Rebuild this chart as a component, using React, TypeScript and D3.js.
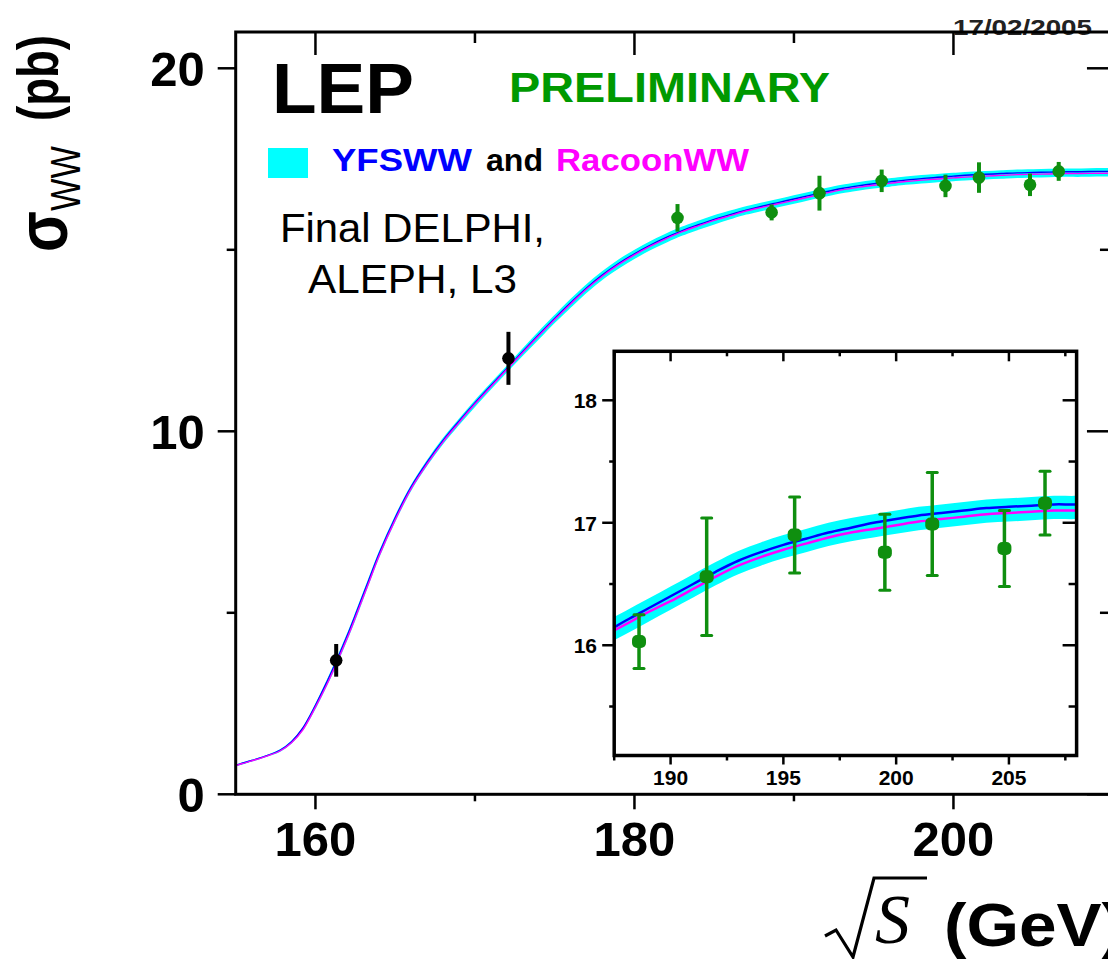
import React from "react";
import * as d3 from "d3";

// ---- data ----
const energy = [155, 156, 157, 157.8, 158.5, 159.2, 160, 160.7, 161.3, 162, 162.6, 163.3, 164, 165, 166, 167, 168, 169, 170, 171, 172, 173, 174, 175, 176, 177, 178, 179, 180, 181, 182, 183, 184, 185, 186, 187, 188, 189, 190, 191, 192, 193, 194, 195, 196, 197, 198, 199, 200, 201, 202, 203, 204, 205, 206, 207, 208, 209, 210];
const yfsww = [0.80, 0.93, 1.07, 1.22, 1.45, 1.82, 2.45, 3.08, 3.66, 4.38, 5.05, 5.85, 6.64, 7.62, 8.47, 9.15, 9.75, 10.28, 10.78, 11.26, 11.73, 12.20, 12.66, 13.11, 13.54, 13.95, 14.31, 14.62, 14.89, 15.13, 15.34, 15.53, 15.69, 15.84, 15.97, 16.09, 16.20, 16.30, 16.40, 16.50, 16.60, 16.69, 16.76, 16.82, 16.87, 16.92, 16.96, 17.00, 17.03, 17.06, 17.08, 17.10, 17.12, 17.13, 17.14, 17.15, 17.15, 17.16, 17.16];
const racoonww = [0.79, 0.92, 1.06, 1.20, 1.42, 1.77, 2.40, 3.01, 3.59, 4.31, 4.98, 5.78, 6.58, 7.56, 8.42, 9.10, 9.71, 10.24, 10.75, 11.23, 11.70, 12.17, 12.63, 13.08, 13.51, 13.92, 14.28, 14.59, 14.86, 15.10, 15.31, 15.50, 15.66, 15.81, 15.94, 16.07, 16.17, 16.27, 16.36, 16.46, 16.56, 16.65, 16.72, 16.78, 16.83, 16.88, 16.92, 16.95, 16.98, 17.01, 17.03, 17.05, 17.07, 17.08, 17.09, 17.10, 17.10, 17.11, 17.11];
const bandLow = [0.79, 0.92, 1.06, 1.20, 1.42, 1.78, 2.39, 3.01, 3.58, 4.30, 4.96, 5.78, 6.57, 7.55, 8.40, 9.08, 9.68, 10.20, 10.70, 11.18, 11.65, 12.11, 12.56, 13.01, 13.43, 13.84, 14.20, 14.50, 14.77, 15.01, 15.22, 15.41, 15.57, 15.72, 15.86, 15.99, 16.09, 16.19, 16.29, 16.39, 16.49, 16.58, 16.65, 16.71, 16.76, 16.81, 16.85, 16.88, 16.91, 16.94, 16.96, 16.98, 17.00, 17.01, 17.02, 17.03, 17.03, 17.04, 17.04];
const bandHigh = [0.80, 0.93, 1.07, 1.22, 1.45, 1.81, 2.46, 3.09, 3.68, 4.40, 5.07, 5.87, 6.66, 7.64, 8.49, 9.18, 9.79, 10.32, 10.83, 11.31, 11.78, 12.26, 12.73, 13.18, 13.62, 14.03, 14.39, 14.71, 14.98, 15.22, 15.43, 15.62, 15.78, 15.93, 16.06, 16.18, 16.28, 16.38, 16.48, 16.58, 16.68, 16.77, 16.84, 16.90, 16.95, 17.00, 17.04, 17.07, 17.10, 17.13, 17.15, 17.17, 17.19, 17.20, 17.21, 17.22, 17.22, 17.23, 17.23];

const lepE = [182.7, 188.6, 191.6, 195.5, 199.5, 201.6, 204.8, 206.6];
const lepSigma = [15.88, 16.03, 16.56, 16.90, 16.76, 16.99, 16.79, 17.16];
const lepErr = [0.38, 0.22, 0.48, 0.31, 0.31, 0.42, 0.31, 0.26];

const thrE = [161.3, 172.1];
const thrSigma = [3.69, 12.01];
const thrErr = [0.45, 0.73];

const mainXMajor = [160, 180, 200];
const mainXMinor = [170, 190];
const mainYMajor = [0, 10, 20];
const mainYMinor = [5, 15];
const insetXMajor = [190, 195, 200, 205];
const insetXMinor = [187.5, 192.5, 197.5, 202.5, 207.5];
const insetYMajor = [16, 17, 18];
const insetYMinor = [15.5, 16.5, 17.5];

const SANS = "'Liberation Sans', Arial, Helvetica, sans-serif";
const GREEN = "#0f8f0f";

export default function App() {
  // main scales
  const x = d3.scaleLinear().domain([155, 210]).range([235.7, 1112.95]);
  const y = d3.scaleLinear().domain([0, 21]).range([794.3, 32.0]);
  // inset scales
  const xi = d3.scaleLinear().domain([187.5, 208]).range([614.2, 1076.6]);
  const yi = d3.scaleLinear().domain([15.1, 18.4]).range([755.5, 351.3]);

  const idx = energy.map((_, i) => i);
  const curve = d3.curveCatmullRom.alpha(0.5);

  const mk = (sx: any, sy: any) => {
    const band = d3
      .area<number>()
      .x((i) => sx(energy[i]))
      .y0((i) => sy(bandLow[i]))
      .y1((i) => sy(bandHigh[i]))
      .curve(curve)(idx) as string;
    const l1 = d3
      .line<number>()
      .x((i) => sx(energy[i]))
      .y((i) => sy(yfsww[i]))
      .curve(curve)(idx) as string;
    const l2 = d3
      .line<number>()
      .x((i) => sx(energy[i]))
      .y((i) => sy(racoonww[i]))
      .curve(curve)(idx) as string;
    return { band, l1, l2 };
  };
  const m = mk(x, y);
  const ins = mk(xi, yi);

  const [MX0, MX1] = x.range();
  const [MY1, MY0] = y.range();
  const [IX0, IX1] = xi.range();
  const [IY1, IY0] = yi.range();

  return (
    <svg
      width={1108}
      height={959}
      style={{ position: "absolute", left: 0, top: 0, background: "#fff" }}
      fontFamily={SANS}
    >
      <defs>
        <clipPath id="mainClip">
          <rect x={MX0} y={MY0} width={MX1 - MX0} height={MY1 - MY0} />
        </clipPath>
        <clipPath id="insetClip">
          <rect x={IX0} y={IY0} width={IX1 - IX0} height={IY1 - IY0} />
        </clipPath>
      </defs>
      <rect x={0} y={0} width={1108} height={959} fill="#fff" />

      {/* date */}
      <text x={953} y={35} fontSize={22} fontWeight="bold" fill="#222" textLength={139} lengthAdjust="spacingAndGlyphs">
        17/02/2005
      </text>

      {/* main theory curves */}
      <g clipPath="url(#mainClip)">
        <path d={m.band} fill="#00ffff" stroke="#00ffff" strokeWidth={1.5} />
        <path d={m.l1} fill="none" stroke="#0000ff" strokeWidth={1.4} />
        <path d={m.l2} fill="none" stroke="#ff00ff" strokeWidth={1.4} />
      </g>

      {/* main data points */}
      {thrE.map((e, i) => (
        <g key={"t" + i}>
          <line x1={x(e)} x2={x(e)} y1={y(thrSigma[i] - thrErr[i])} y2={y(thrSigma[i] + thrErr[i])} stroke="#000" strokeWidth={4} />
          <circle cx={x(e)} cy={y(thrSigma[i])} r={6.3} fill="#000" />
        </g>
      ))}
      {lepE.map((e, i) => (
        <g key={"l" + i}>
          <line x1={x(e)} x2={x(e)} y1={y(lepSigma[i] - lepErr[i])} y2={y(lepSigma[i] + lepErr[i])} stroke={GREEN} strokeWidth={4} />
          <circle cx={x(e)} cy={y(lepSigma[i])} r={6.3} fill={GREEN} />
        </g>
      ))}

      {/* main frame and ticks */}
      <g stroke="#000" strokeWidth={2.5}>
        {mainXMajor.map((v) => (
          <g key={"mxM" + v}>
            <line x1={x(v)} x2={x(v)} y1={MY1} y2={MY1 + 15} />
            <line x1={x(v)} x2={x(v)} y1={MY0} y2={MY0 + 23} />
          </g>
        ))}
        {mainXMinor.map((v) => (
          <g key={"mxm" + v}>
            <line x1={x(v)} x2={x(v)} y1={MY1} y2={MY1 + 7} />
            <line x1={x(v)} x2={x(v)} y1={MY0} y2={MY0 + 11} />
          </g>
        ))}
        {mainYMajor.map((v) => (
          <g key={"myM" + v}>
            <line x1={MX0 - 18} x2={MX0} y1={y(v)} y2={y(v)} />
            <line x1={MX1 - 26} x2={MX1} y1={y(v)} y2={y(v)} />
          </g>
        ))}
        {mainYMinor.map((v) => (
          <g key={"mym" + v}>
            <line x1={MX0 - 9} x2={MX0} y1={y(v)} y2={y(v)} />
            <line x1={MX1 - 13} x2={MX1} y1={y(v)} y2={y(v)} />
          </g>
        ))}
      </g>
      <rect x={MX0} y={MY0} width={MX1 - MX0} height={MY1 - MY0} fill="none" stroke="#000" strokeWidth={3} />

      {/* main tick labels */}
      {mainXMajor.map((v) => (
        <text key={"mxl" + v} x={x(v)} y={856} fontSize={49} fontWeight="bold" textAnchor="middle">
          {v}
        </text>
      ))}
      {mainYMajor.map((v) => (
        <text key={"myl" + v} x={MX0 - 31} y={y(v) + 18} fontSize={49} fontWeight="bold" textAnchor="end">
          {v}
        </text>
      ))}

      {/* texts */}
      <text x={272} y={113} fontSize={71} fontWeight="bold" textLength={142} lengthAdjust="spacingAndGlyphs">
        LEP
      </text>
      <text x={509} y={102} fontSize={42} fontWeight="bold" fill="#009900" textLength={321} lengthAdjust="spacingAndGlyphs">
        PRELIMINARY
      </text>
      <rect x={268} y={148} width={40} height={30} fill="#00ffff" />
      <text x={332} y={171} fontSize={32} fontWeight="bold" fill="#0000ff" textLength={140} lengthAdjust="spacingAndGlyphs">
        YFSWW
      </text>
      <text x={486} y={171} fontSize={32} fontWeight="bold" fill="#000" textLength={57} lengthAdjust="spacingAndGlyphs">
        and
      </text>
      <text x={556} y={171} fontSize={32} fontWeight="bold" fill="#ff00ff" textLength={193} lengthAdjust="spacingAndGlyphs">
        RacoonWW
      </text>
      <text x={280} y={242} fontSize={41} textLength={265} lengthAdjust="spacingAndGlyphs">
        Final DELPHI,
      </text>
      <text x={308} y={293} fontSize={41} textLength={209} lengthAdjust="spacingAndGlyphs">
        ALEPH, L3
      </text>

      {/* y axis title */}
      <g transform="translate(67,252) scale(1.2,1) rotate(-90)">
        <text x={0} y={0} fontSize={60} fontWeight="bold">σ</text>
      </g>
      <g transform="translate(80,211) scale(1.25,1) rotate(-90)">
        <text x={0} y={0} fontSize={34} textLength={65} lengthAdjust="spacingAndGlyphs">WW</text>
      </g>
      <g transform="translate(58,121) scale(1.25,1) rotate(-90)">
        <text x={0} y={0} fontSize={46} fontWeight="bold" textLength={86} lengthAdjust="spacingAndGlyphs">(pb)</text>
      </g>

      {/* x axis title */}
      <path d="M825,936 L836,930 L853,957 L874,878 L927,878" fill="none" stroke="#000" strokeWidth={3.2} strokeLinejoin="miter" />
      <text x={875} y={943} fontSize={70} fontStyle="italic" fontFamily="'Liberation Serif', 'Times New Roman', serif">
        S
      </text>
      <text x={944} y={946} fontSize={62} fontWeight="bold" textLength={180} lengthAdjust="spacingAndGlyphs">
        (GeV)
      </text>

      {/* inset */}
      <rect x={IX0} y={IY0} width={IX1 - IX0} height={IY1 - IY0} fill="#fff" />
      <g clipPath="url(#insetClip)">
        <path d={ins.band} fill="#00ffff" />
        <path d={ins.l1} fill="none" stroke="#0000ff" strokeWidth={2.5} />
        <path d={ins.l2} fill="none" stroke="#ff00ff" strokeWidth={2.5} />
        {lepE.map((e, i) => (
          <g key={"il" + i}>
            <line x1={xi(e)} x2={xi(e)} y1={yi(lepSigma[i] - lepErr[i])} y2={yi(lepSigma[i] + lepErr[i])} stroke={GREEN} strokeWidth={3.5} />
            <line x1={xi(e) - 5} x2={xi(e) + 5} y1={yi(lepSigma[i] - lepErr[i])} y2={yi(lepSigma[i] - lepErr[i])} stroke={GREEN} strokeWidth={3} strokeLinecap="round" />
            <line x1={xi(e) - 5} x2={xi(e) + 5} y1={yi(lepSigma[i] + lepErr[i])} y2={yi(lepSigma[i] + lepErr[i])} stroke={GREEN} strokeWidth={3} strokeLinecap="round" />
            <rect x={xi(e) - 7} y={yi(lepSigma[i]) - 6.5} width={14} height={13} rx={5} fill={GREEN} />
          </g>
        ))}
      </g>
      <g stroke="#000" strokeWidth={2.5}>
        {insetXMajor.map((v) => (
          <g key={"ixM" + v}>
            <line x1={xi(v)} x2={xi(v)} y1={IY1} y2={IY1 + 9} />
            <line x1={xi(v)} x2={xi(v)} y1={IY0} y2={IY0 + 10} />
          </g>
        ))}
        {insetXMinor.map((v) => (
          <g key={"ixm" + v}>
            <line x1={xi(v)} x2={xi(v)} y1={IY1} y2={IY1 + 5} />
            <line x1={xi(v)} x2={xi(v)} y1={IY0} y2={IY0 + 5} />
          </g>
        ))}
        {insetYMajor.map((v) => (
          <g key={"iyM" + v}>
            <line x1={IX0 - 12} x2={IX0} y1={yi(v)} y2={yi(v)} />
            <line x1={IX1 - 14} x2={IX1} y1={yi(v)} y2={yi(v)} />
          </g>
        ))}
        {insetYMinor.map((v) => (
          <g key={"iym" + v}>
            <line x1={IX0 - 5} x2={IX0} y1={yi(v)} y2={yi(v)} />
            <line x1={IX1 - 8} x2={IX1} y1={yi(v)} y2={yi(v)} />
          </g>
        ))}
      </g>
      <rect x={IX0} y={IY0} width={IX1 - IX0} height={IY1 - IY0} fill="none" stroke="#000" strokeWidth={3.5} />
      {insetXMajor.map((v) => (
        <text key={"ixl" + v} x={xi(v)} y={785} fontSize={21} fontWeight="bold" textAnchor="middle">
          {v}
        </text>
      ))}
      {insetYMajor.map((v) => (
        <text key={"iyl" + v} x={597} y={yi(v) + 8} fontSize={21} fontWeight="bold" textAnchor="end">
          {v}
        </text>
      ))}
    </svg>
  );
}
